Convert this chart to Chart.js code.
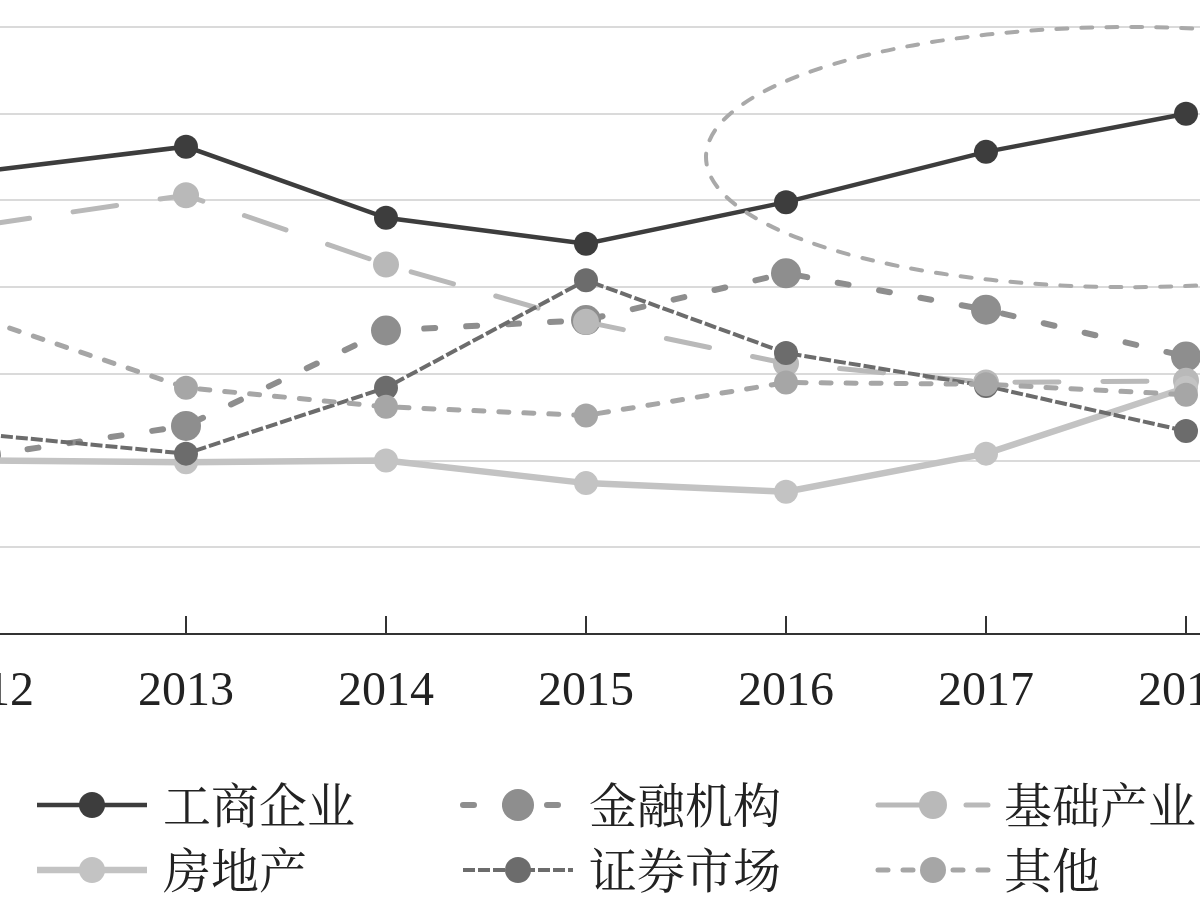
<!DOCTYPE html>
<html><head><meta charset="utf-8">
<script src="https://cdn.jsdelivr.net/npm/chart.js@4.4.1/dist/chart.umd.min.js"></script>
<style>
html,body{margin:0;padding:0;background:#fff;overflow:hidden;width:1200px;height:900px;}
#wrap{position:absolute;left:-114px;top:0;width:1400px;height:900px;}
</style></head><body>
<div id="wrap"><canvas id="c" width="1400" height="900"></canvas></div>
<script>
// ---- data ----
const years = ['2012','2013','2014','2015','2016','2017','2018'];
const seriesNames = ['工商企业','金融机构','基础产业','房地产','证券市场','其他'];
const gongshang  = [26.7, 28.1, 24.0, 22.5, 24.9, 27.8, 30.0];
const jinrong    = [10.3, 12.0, 17.5, 18.1, 20.8, 18.7, 16.0];
const jichu      = [23.6, 25.3, 21.3, 18.0, 15.6, 14.5, 14.6];
const fangdichan = [10.0, 9.9, 10.0, 8.7, 8.2, 10.4, 14.2];
const zhengquan  = [11.5, 10.4, 14.2, 20.4, 16.2, 14.3, 11.7];
const qita       = [18.1, 14.2, 13.1, 12.6, 14.5, 14.4, 13.8];
const yMin = 0, yMax = 35, yStep = 5;
const seriesValues = [gongshang, jinrong, jichu, fangdichan, zhengquan, qita];

// ---- styles ----
const styles = [
  {color:'#3d3d3d', width:4.5, dash:[],      cap:'butt',  r:12},
  {color:'#8e8e8e', width:6,   dash:[11,31], cap:'round', r:15},
  {color:'#b9b9b9', width:5,   dash:[44,44], cap:'round', r:13},
  {color:'#c3c3c3', width:6.5, dash:[],      cap:'butt',  r:12},
  {color:'#6c6c6c', width:4,   dash:[12,3],  cap:'butt',  r:12},
  {color:'#a6a6a6', width:5,   dash:[10,15], cap:'round', r:12}
];
const PAGE_OFFSET = 114;
// highlight ellipse (in axis units): centre category index / value, radii
const ellipseSpec = {cx:5.72, cy:27.5, rxCat:2.12, ryVal:7.5};

const innerTicks = {
  id:'innerTicks',
  beforeDatasetsDraw(chart){
    const ctx = chart.ctx, xs = chart.scales.x, b = chart.chartArea.bottom;
    ctx.save();
    ctx.strokeStyle = '#333'; ctx.lineWidth = 2;
    xs.ticks.forEach((t,i)=>{
      const x = Math.round(xs.getPixelForTick(i));
      ctx.beginPath(); ctx.moveTo(x, b); ctx.lineTo(x, b-18); ctx.stroke();
    });
    ctx.restore();
  }
};

const ellipsePlugin = {
  id:'ellipse',
  afterDatasetsDraw(chart){
    const ctx = chart.ctx, xs = chart.scales.x, ys = chart.scales.y;
    const step = xs.getPixelForValue(1) - xs.getPixelForValue(0);
    const cx = xs.getPixelForValue(0) + ellipseSpec.cx*step;
    const cy = ys.getPixelForValue(ellipseSpec.cy);
    const rx = ellipseSpec.rxCat*step;
    const ry = Math.abs(ys.getPixelForValue(0) - ys.getPixelForValue(ellipseSpec.ryVal));
    ctx.save();
    ctx.strokeStyle = '#a9a9a9'; ctx.lineWidth = 4; ctx.lineCap = 'round';
    ctx.setLineDash([11,14]);
    ctx.beginPath(); ctx.ellipse(cx, cy, rx, ry, 0, 0, Math.PI*2); ctx.stroke();
    ctx.restore();
  }
};

const legendPlugin = {
  id:'customLegend',
  afterDraw(chart){
    const ctx = chart.ctx;
    const cols = [163, 589, 1004], rows = [805, 870];
    ctx.save();
    seriesNames.forEach((name,i)=>{
      const st = styles[i];
      const tx = cols[i%3] + PAGE_OFFSET, ty = rows[Math.floor(i/3)];
      const x0 = tx - 126, x1 = x0 + 110, xm = (x0+x1)/2;
      ctx.strokeStyle = st.color; ctx.lineWidth = st.width;
      ctx.setLineDash(st.dash); ctx.lineCap = st.cap;
      ctx.beginPath(); ctx.moveTo(x0, ty); ctx.lineTo(x1, ty); ctx.stroke();
      ctx.setLineDash([]);
      ctx.fillStyle = st.color;
      ctx.beginPath(); ctx.arc(xm, ty, st.r+1, 0, Math.PI*2); ctx.fill();
      ctx.fillStyle = '#222';
      ctx.font = '48px "Noto Serif CJK SC","Noto Sans CJK SC",serif';
      ctx.textBaseline = 'middle'; ctx.textAlign = 'left';
      ctx.fillText(name, tx, ty);
    });
    ctx.restore();
  }
};

new Chart(document.getElementById('c'), {
  type:'line',
  data:{
    labels: years,
    datasets: seriesNames.map((n,i)=>({
      label:n, data:seriesValues[i],
      borderColor:styles[i].color, backgroundColor:styles[i].color,
      borderWidth:styles[i].width, borderDash:styles[i].dash, borderCapStyle:styles[i].cap,
      pointRadius:styles[i].r, pointHoverRadius:styles[i].r,
      pointBackgroundColor:styles[i].color, pointBorderWidth:0,
      tension:0, fill:false, order:6-i
    }))
  },
  options:{
    responsive:false, animation:false, devicePixelRatio:1, events:[],
    layout:{autoPadding:false, padding:{top:27,left:0,right:0,bottom:0}},
    plugins:{legend:{display:false}, tooltip:{enabled:false}},
    scales:{
      x:{
        offset:true,
        grid:{display:true, drawOnChartArea:false, drawTicks:false, offset:false},
        border:{display:true, color:'#333', width:2},
        ticks:{font:{family:'Liberation Serif', size:48}, color:'#222', padding:30, maxRotation:0, autoSkip:false},
        afterFit(s){ s.height = 266; s.paddingLeft = 0; s.paddingRight = 0; }
      },
      y:{
        min:yMin, max:yMax,
        ticks:{display:false, stepSize:yStep},
        grid:{color:(c)=> c.tick && c.tick.value===yMin ? 'rgba(0,0,0,0)' : '#dadada', lineWidth:2, drawTicks:false},
        border:{display:false},
        afterFit(s){ s.width = 0; }
      }
    }
  },
  plugins:[innerTicks, ellipsePlugin, legendPlugin]
});
</script>
</body></html>
